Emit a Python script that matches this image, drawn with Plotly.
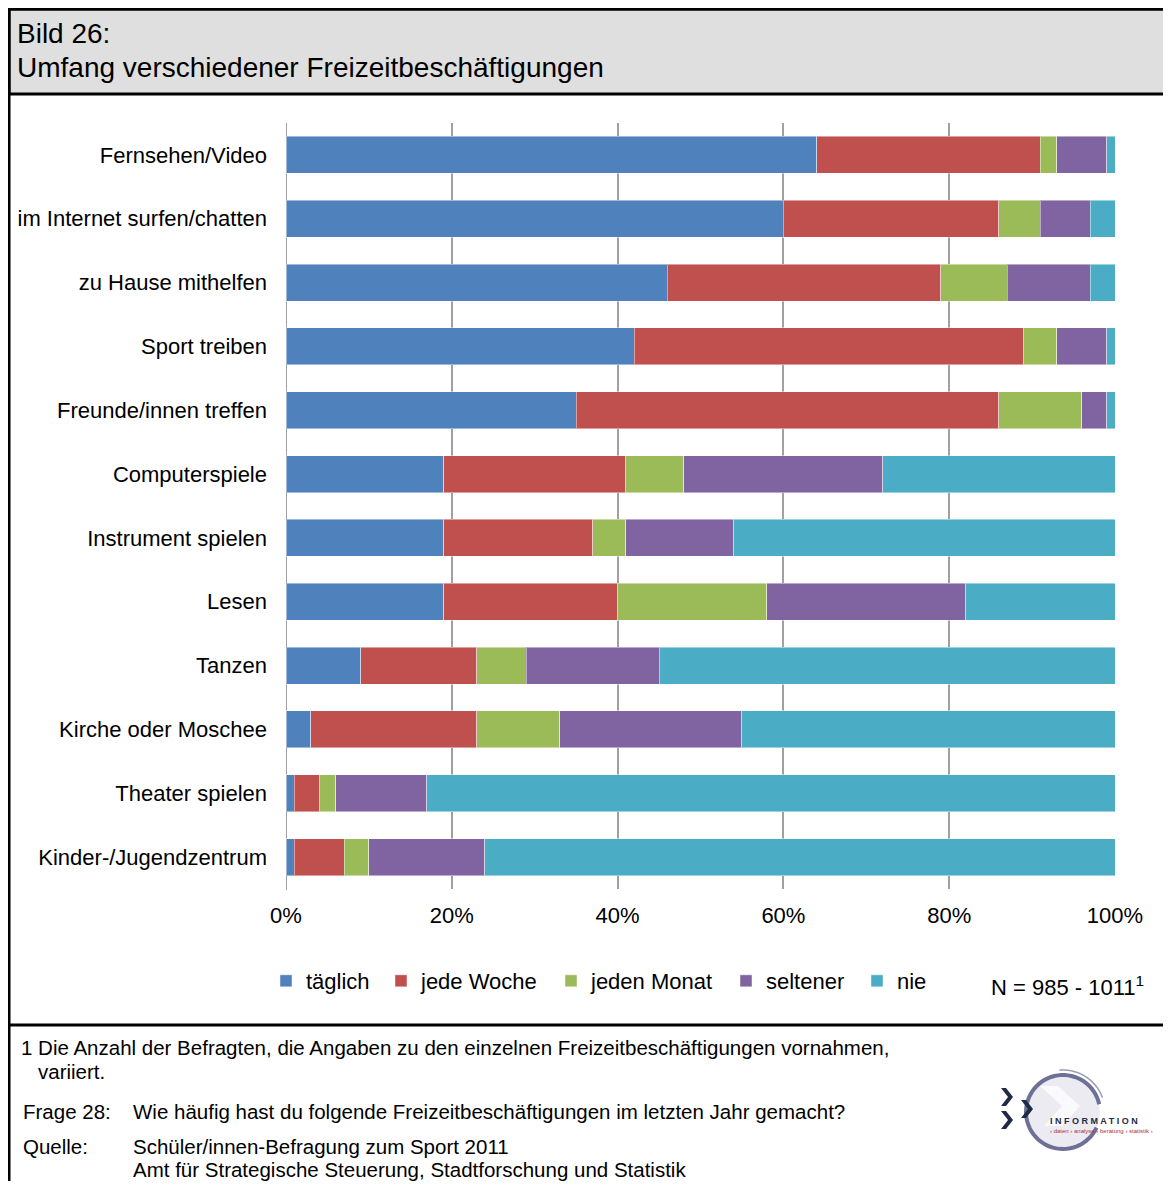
import math
import plotly.graph_objects as go

# page is 1171x1189; the body has an 8px margin, so the figure is kept inside it
PAGE_W, PAGE_H = 1171, 1189
OFF = 8
W, H = PAGE_W - 2 * OFF, PAGE_H - 2 * OFF

categories = [
    'Fernsehen/Video', 'im Internet surfen/chatten', 'zu Hause mithelfen',
    'Sport treiben', 'Freunde/innen treffen', 'Computerspiele',
    'Instrument spielen', 'Lesen', 'Tanzen', 'Kirche oder Moschee',
    'Theater spielen', 'Kinder-/Jugendzentrum'
]
taeglich = [64, 60, 46, 42, 35, 19, 19, 19, 9, 3, 1, 1]
jede_woche = [27, 26, 33, 47, 51, 22, 18, 21, 14, 20, 3, 6]
jeden_monat = [2, 5, 8, 4, 10, 7, 4, 18, 6, 10, 2, 3]
seltener = [6, 6, 10, 6, 3, 24, 13, 24, 16, 22, 11, 14]
nie = [1, 3, 3, 1, 1, 28, 46, 18, 55, 45, 83, 76]

series = [
    ('täglich', taeglich, '#4F81BD'),
    ('jede Woche', jede_woche, '#C0504D'),
    ('jeden Monat', jeden_monat, '#9BBB59'),
    ('seltener', seltener, '#8064A2'),
    ('nie', nie, '#4BACC6'),
]
x_ticks = [0, 20, 40, 60, 80, 100]
x_ticklabels = ['0%', '20%', '40%', '60%', '80%', '100%']

FONT = 'Liberation Sans, Arial, sans-serif'
FS = 22
FOOT = 20.5


def px(x):
    # page pixel -> paper x
    return (x - OFF) / W


def py(y):
    # page pixel -> paper y
    return 1 - (y - OFF) / H


# one small legend per series so the entries sit where the original has them
legend_x = [266, 381, 551, 726, 857]
legend_ids = ['legend', 'legend2', 'legend3', 'legend4', 'legend5']

fig = go.Figure()
for (name, vals, color), lid in zip(series, legend_ids):
    fig.add_trace(go.Bar(
        y=categories, x=vals, name=name, orientation='h', legend=lid,
        showlegend=True,
        marker=dict(color=color, line=dict(color='rgba(255,255,255,0.45)', width=1)),
    ))

legends = {}
for lid, lx in zip(legend_ids, legend_x):
    legends[lid] = dict(
        orientation='h', x=px(lx), y=py(981), xanchor='left', yanchor='middle',
        font=dict(size=FS), itemwidth=30, bgcolor='rgba(0,0,0,0)', visible=True,
    )

fig.update_layout(
    width=W, height=H, autosize=False, showlegend=True,
    margin=dict(l=0, r=0, t=0, b=0),
    paper_bgcolor='white', plot_bgcolor='white',
    barmode='stack', bargap=0.42,
    font=dict(family=FONT, size=FS, color='black'),
    xaxis=dict(
        domain=[px(286), px(1115)], range=[0, 100], automargin=False,
        tickvals=x_ticks, ticktext=x_ticklabels,
        showgrid=True, gridcolor='#a0a0a0', gridwidth=2,
        zeroline=False, showline=False, ticks='',
        ticklabelstandoff=11, tickfont=dict(size=FS),
    ),
    yaxis=dict(
        domain=[py(889), py(123)], automargin=False,
        categoryorder='array', categoryarray=categories,
        autorange='reversed', showgrid=False, zeroline=False,
        showline=False, ticks='', ticklabelstandoff=18,
        tickfont=dict(size=FS),
    ),
    **legends,
)

shapes = []
# outer frame and header band
shapes.append(dict(type='rect', xref='paper', yref='paper', x0=px(9), x1=px(1175),
                   y0=py(1195), y1=py(9), line=dict(color='black', width=3),
                   fillcolor='rgba(0,0,0,0)', layer='above'))
shapes.append(dict(type='rect', xref='paper', yref='paper', x0=px(9), x1=px(1175),
                   y0=py(94), y1=py(9), line=dict(color='black', width=3),
                   fillcolor='#dfdfdf', layer='below'))
shapes.append(dict(type='line', xref='paper', yref='paper', x0=px(9), x1=px(1175),
                   y0=py(1025), y1=py(1025), line=dict(color='black', width=3)))
# 0% axis line
shapes.append(dict(type='line', xref='x', yref='paper', x0=0, x1=0,
                   y0=py(890), y1=py(123), line=dict(color='#a0a0a0', width=2),
                   layer='below'))

# logo: pale disc, ring open on the right, faint inner chevron, dark chevrons
cx, cy, r = 1063, 1112, 37
shapes.append(dict(type='circle', xref='paper', yref='paper',
                   x0=px(cx - r), x1=px(cx + r), y0=py(cy + r), y1=py(cy - r),
                   fillcolor='#ecebf2', line=dict(width=0), layer='above'))
shapes.append(dict(type='path', xref='paper', yref='paper',
                   path=(f'M{px(1040)},{py(1086)} L{px(1058)},{py(1086)} '
                         f'L{px(1080)},{py(1106)} L{px(1062)},{py(1126)} '
                         f'L{px(1044)},{py(1126)} L{px(1062)},{py(1106)} Z'),
                   fillcolor='#fafafd', line=dict(width=0), layer='above'))


def arc(radius, a0, a1, n=60):
    pts = []
    for i in range(n + 1):
        a = math.radians(a0 + (a1 - a0) * i / n)
        pts.append((px(cx + radius * math.cos(a)), py(cy - radius * math.sin(a))))
    return 'M' + ' L'.join(f'{x},{y}' for x, y in pts)


shapes.append(dict(type='path', xref='paper', yref='paper', path=arc(r, 12, 335),
                   line=dict(color='#6d7195', width=4), layer='above'))
shapes.append(dict(type='path', xref='paper', yref='paper', path=arc(r + 5, 20, 95),
                   line=dict(color='#9a9cb8', width=1.5), layer='above'))
for (ox, oy) in [(1001, 1088), (1021, 1100), (1001, 1111)]:
    shapes.append(dict(type='path', xref='paper', yref='paper',
                       path=(f'M{px(ox)},{py(oy)} L{px(ox + 5)},{py(oy)} '
                             f'L{px(ox + 12)},{py(oy + 9)} L{px(ox + 5)},{py(oy + 18)} '
                             f'L{px(ox)},{py(oy + 18)} L{px(ox + 7)},{py(oy + 9)} Z'),
                       fillcolor='#1f2a44', line=dict(width=0), layer='above'))
fig.update_layout(shapes=shapes)

annotations = [
    dict(text='Bild 26:', x=px(16), y=py(34), font=dict(size=28)),
    dict(text='Umfang verschiedener Freizeitbeschäftigungen', x=px(16), y=py(67),
         font=dict(size=28)),
    dict(text='N = 985 - 1011<sup>1</sup>', x=px(990), y=py(986), font=dict(size=FS)),
    dict(text='1 Die Anzahl der Befragten, die Angaben zu den einzelnen '
              'Freizeitbeschäftigungen vornahmen,', x=px(20), y=py(1047),
         font=dict(size=FOOT)),
    dict(text='variiert.', x=px(37), y=py(1071), font=dict(size=FOOT)),
    dict(text='Frage 28:', x=px(22), y=py(1111), font=dict(size=FOOT)),
    dict(text='Wie häufig hast du folgende Freizeitbeschäftigungen im letzten Jahr gemacht?',
         x=px(132), y=py(1111), font=dict(size=FOOT)),
    dict(text='Quelle:', x=px(22), y=py(1146), font=dict(size=FOOT)),
    dict(text='Schüler/innen-Befragung zum Sport 2011', x=px(132), y=py(1146),
         font=dict(size=FOOT)),
    dict(text='Amt für Strategische Steuerung, Stadtforschung und Statistik',
         x=px(132), y=py(1169), font=dict(size=FOOT)),
    dict(text='<b>I N F O R M A T I O N</b>', x=px(1049), y=py(1121),
         font=dict(size=9, color='#1f2a44')),
    dict(text='‹ daten › analyse › beratung › statistik ›', x=px(1049), y=py(1131),
         font=dict(size=6, color='#b03040')),
]
for a in annotations:
    a.update(xref='paper', yref='paper', xanchor='left', yanchor='middle',
             showarrow=False, align='left', borderpad=0)
    a['font'].setdefault('color', 'black')
    a['font']['family'] = FONT
fig.update_layout(annotations=annotations)

fig.write_html('out.html')
